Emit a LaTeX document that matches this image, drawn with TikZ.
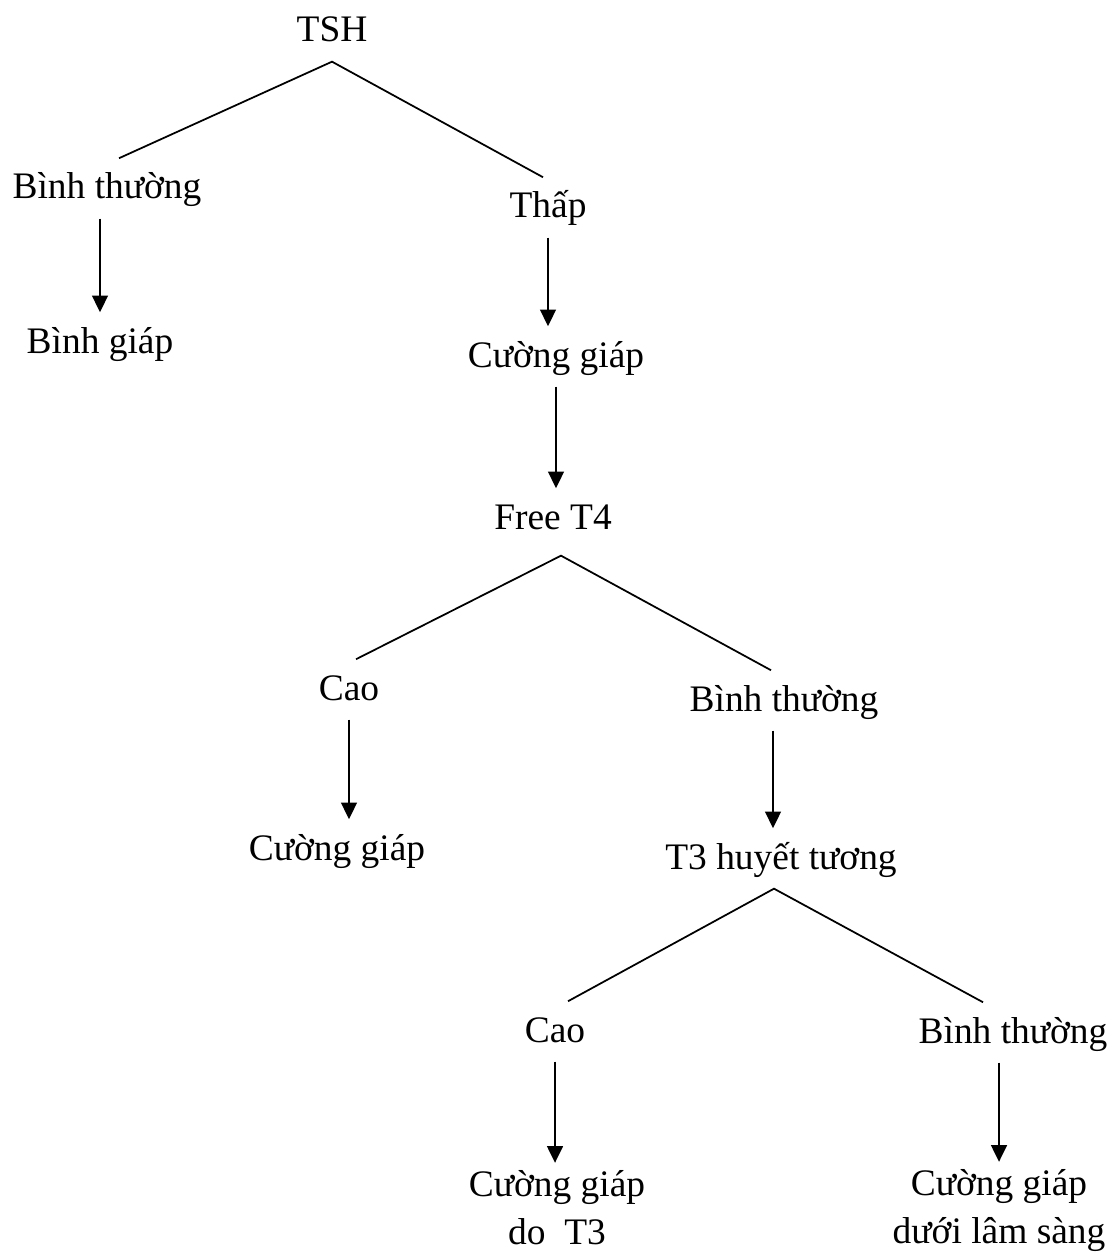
\documentclass[tikz,border=0pt]{standalone}
\usepackage{fontspec}
\setmainfont{Liberation Serif}
\usepackage{tikz}
\usetikzlibrary{arrows.meta}

\begin{document}
\begin{tikzpicture}[
  x=0.02cm, y=-0.02cm,
  txt/.style={anchor=base, inner xsep=0pt, inner ysep=4pt, align=center,
              font=\fontsize{21.3}{27.2}\selectfont},
  lbl/.style={txt, text height=19pt, text depth=7pt},
  arr/.style={-{Triangle[length=9.5pt, width=9pt]}, line width=1.1pt},
  br/.style={line width=1pt},
]
\useasboundingbox (0,0) rectangle (1111,1253);

% --- Tree nodes (placed on their baselines) ---
\node[lbl] (tsh)  at (332,  42) {TSH};
\node[lbl] (bt1)  at (107, 199) {Bình thường};
\node[lbl] (thap) at (548, 218) {Thấp};
\node[lbl] (bg)   at (100, 353) {Bình giáp};
\node[lbl] (cg1)  at (556, 367) {Cường giáp};
\node[lbl] (ft4)  at (553, 529) {Free T4};

\node[lbl] (cao1) at (349, 700) {Cao};
\node[lbl] (bt2)  at (784, 711) {Bình thường};
\node[lbl] (cg2)  at (337, 860) {Cường giáp};
\node[lbl] (t3)   at (781, 869) {T3 huyết tương};

\node[lbl] (cao2) at (555, 1042) {Cao};
\node[lbl] (bt3)  at (1013, 1043) {Bình thường};
% two-line leaves: base is the last line
\node[txt] (cg3)  at (557, 1244) {Cường giáp\\do\ \ T3};
\node[txt] (cg4)  at (999, 1243) {Cường giáp\\dưới lâm sàng};

% --- Branch lines ---
\draw[br] ([xshift=0.24cm]bt1.north) -- (tsh.south) -- ([xshift=-0.1cm]thap.north);
\draw[br] ([xshift=0.14cm]cao1.north) -- ([xshift=0.16cm, yshift=-0.14cm]ft4.south)
          -- ([xshift=-0.26cm]bt2.north);
\draw[br] ([xshift=0.26cm]cao2.north) -- ([xshift=-0.14cm]t3.south)
          -- ([xshift=-0.6cm]bt3.north);

% --- Arrows ---
\draw[arr] (bt1.south -| bg.north) -- (bg.north);
\draw[arr] (thap.south) -- (thap.south |- cg1.north);
\draw[arr] (cg1.south) -- (cg1.south |- ft4.north);
\draw[arr] (cao1.south) -- (cao1.south |- cg2.north);
\draw[arr] ([xshift=-0.22cm]bt2.south) -- ([xshift=-0.22cm]bt2.south |- t3.north);
\draw[arr] (cao2.south) -- (cao2.south |- cg3.north);
\draw[arr] (bt3.south -| cg4.north) -- (cg4.north);
\end{tikzpicture}
\end{document}
